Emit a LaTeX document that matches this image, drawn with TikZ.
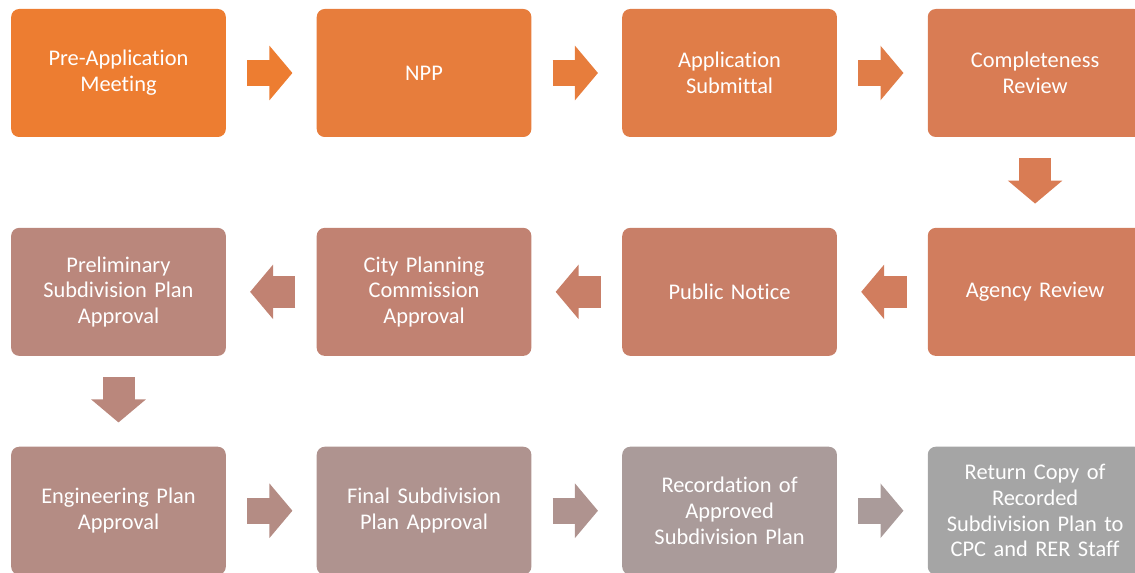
\documentclass[tikz,border=0pt]{standalone}
\usepackage{fontspec}
\setmainfont{Carlito}[Ligatures=NoCommon]
\usetikzlibrary{positioning, arrows.meta}

\definecolor{c1}{RGB}{237,125,49}
\definecolor{c2}{RGB}{231,125,60}
\definecolor{c3}{RGB}{224,125,72}
\definecolor{c4}{RGB}{217,124,84}
\definecolor{c5}{RGB}{209,125,94}
\definecolor{c6}{RGB}{200,127,104}
\definecolor{c7}{RGB}{193,130,114}
\definecolor{c8}{RGB}{186,135,124}
\definecolor{c9}{RGB}{180,140,132}
\definecolor{c10}{RGB}{175,147,143}
\definecolor{c11}{RGB}{170,155,154}
\definecolor{c12}{RGB}{165,165,165}

\begin{document}
\begin{tikzpicture}[
      x=0.75pt, y=-0.75pt,
      node distance=67.75pt,
      stage/.style={rectangle, rounded corners=6pt, fill=#1, text=white,
        minimum width=161pt, minimum height=96pt, text width=152pt,
        align=center, inner sep=0pt, font=\fontsize{16.8}{19.3}\selectfont},
      flow/.style={draw=#1, line width=19.5pt,
        -{Triangle[width=40pt,length=17.25pt]},
        shorten <=15.75pt, shorten >=18pt},
      back/.style={line width=24pt}
    ]
    \useasboundingbox (0,0) rectangle (1135,573);

    \node[stage=c1] (premeet) at (118.5,73) {Pre-Application\\Meeting};
    \node[stage=c2, right=of premeet] (npp) {NPP};
    \node[stage=c3, right=of npp] (submit) {Application\\Submittal};
    \node[stage=c4, right=of submit] (complete) {Completeness\\Review};

    \node[stage=c5, below=of complete] (agency) {Agency Review};
    \node[stage=c6, left=of agency] (notice) {Public Notice};
    \node[stage=c7, left=of notice] (cpc) {City Planning\\Commission\\Approval};
    \node[stage=c8, left=of cpc] (prelim) {Preliminary\\Subdivision Plan\\Approval};

    \node[stage=c9, below=of prelim] (eng) {Engineering Plan\\Approval};
    \node[stage=c10, right=of eng] (final) {Final Subdivision\\Plan Approval};
    \node[stage=c11, right=of final] (record) {Recordation of\\Approved\\Subdivision Plan};
    \node[stage=c12, right=of record] (ret) {Return Copy of\\Recorded\\Subdivision Plan to\\CPC and RER Staff};

    \draw[flow=c1] (premeet) -- (npp);
    \draw[flow=c2] (npp) -- (submit);
    \draw[flow=c3] (submit) -- (complete);
    \draw[flow=c4, back] (complete) -- (agency);
    \draw[flow=c5, back] (agency) -- (notice);
    \draw[flow=c6, back] (notice) -- (cpc);
    \draw[flow=c7, back] (cpc) -- (prelim);
    \draw[flow=c8, back] (prelim) -- (eng);
    \draw[flow=c9] (eng) -- (final);
    \draw[flow=c10] (final) -- (record);
    \draw[flow=c11] (record) -- (ret);
\end{tikzpicture}
\end{document}
